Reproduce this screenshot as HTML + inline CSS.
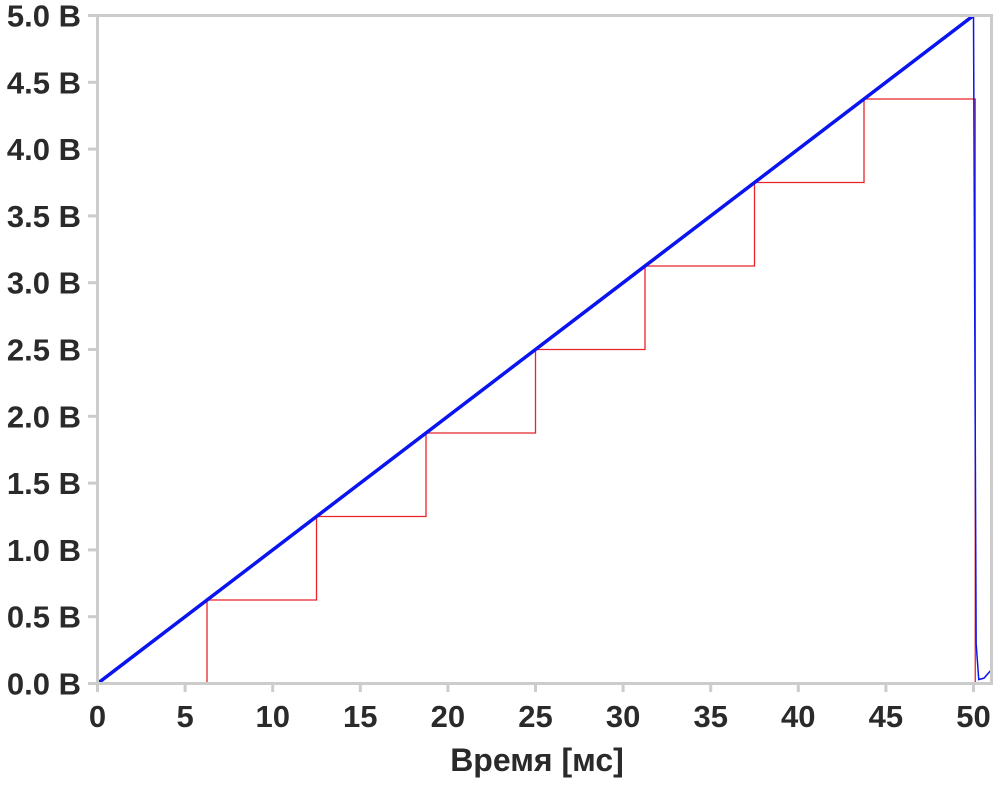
<!DOCTYPE html>
<html><head><meta charset="utf-8"><style>
body{margin:0;background:#fff}
svg text{font-family:"Liberation Sans",sans-serif;font-weight:bold;fill:#2a2a2a}
</style></head><body>
<svg id="chart" width="1000" height="780" viewBox="0 0 1000 780" xmlns="http://www.w3.org/2000/svg">
<g id="grid"></g>
<g id="series"></g>
<rect x="97.5" y="15.5" width="894" height="668" fill="none" stroke="#cccccc" stroke-width="3"/>
<g id="axes"></g>
<text x="537" y="771" font-size="32" text-anchor="middle">Время [мс]</text>
</svg>
<script>
const xTicks=[0,5,10,15,20,25,30,35,40,45,50];
const yTicks=[0,0.5,1.0,1.5,2.0,2.5,3.0,3.5,4.0,4.5,5.0];
const rampT=[0,50];
const rampV=[0,5];
const tailT=[50,50.15,50.3,50.6,51.0];
const tailV=[5,0.3,0.03,0.04,0.1];
const stepTimes=[0,6.25,12.5,18.75,25,31.25,37.5,43.75,50];
const stepValues=[0,0.625,1.25,1.875,2.5,3.125,3.75,4.375,0];
const NS="http://www.w3.org/2000/svg";
const X=t=>97.5+t*17.52, Y=v=>683.5-v*133.6;
function mk(tag,attrs,parent){const e=document.createElementNS(NS,tag);for(const k in attrs)e.setAttribute(k,attrs[k]);parent.appendChild(e);return e;}
const axes=document.getElementById('axes'),series=document.getElementById('series');
xTicks.forEach(t=>{
 const l=mk('line',{x1:X(t),x2:X(t),y1:683,y2:692,stroke:'#cccccc','stroke-width':3},axes);
 
 
 const tx=mk('text',{x:X(t),y:727,'font-size':31,'text-anchor':'middle'},axes);
 tx.textContent=t;
 
 
});
yTicks.forEach(v=>{
 const l=mk('line',{x1:88,x2:98,y1:Y(v),y2:Y(v),stroke:'#cccccc','stroke-width':3},axes);
 
 
 const tx=mk('text',{x:81,y:Y(v)+11,'font-size':31,'text-anchor':'end'},axes);
 tx.textContent=v.toFixed(1)+' В';
 
 
});
let d='';
for(let i=0;i<stepTimes.length-1;i++){
 const v=stepValues[i], t0=stepTimes[i], t1=stepTimes[i+1];
 d+=(i===0?'M':'L')+X(t0)+','+Y(v)+' L'+X(t1)+','+Y(v)+' ';
 if(i<stepTimes.length-2) d+='L'+X(t1)+','+Y(stepValues[i+1])+' ';
}
d+='L'+X(50.1)+','+Y(stepValues[stepValues.length-2])+' L'+X(50.1)+','+Y(stepValues[stepValues.length-1]);
const red=mk('path',{d:d,fill:'none',stroke:'#e8232a','stroke-width':1.3},series);


let bd='M'+X(rampT[0])+','+Y(rampV[0])+' L'+X(rampT[1])+','+Y(rampV[1]);
const blue=mk('path',{d:bd,fill:'none',stroke:'#0a14ee','stroke-width':3.5},series);


let td=tailT.map((t,i)=>(i?'L':'M')+X(t)+','+Y(tailV[i])).join(' ');
const tail=mk('path',{d:td,fill:'none',stroke:'#0a14ee','stroke-width':1.5},series);


</script>
</body></html>
